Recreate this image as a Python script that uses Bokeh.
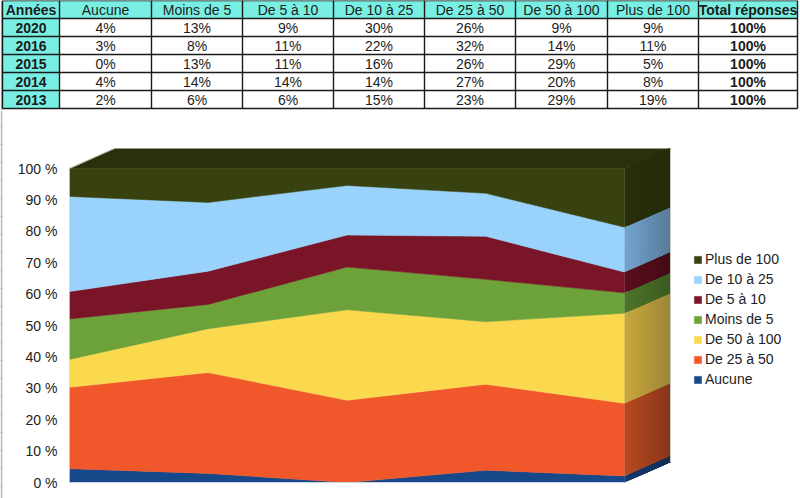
from bokeh.embed import file_html
from bokeh.resources import INLINE
from bokeh.plotting import figure
from bokeh.layouts import column, row
from bokeh.models import (Range1d, LinearAxis, FixedTicker, Legend, LegendItem)
from bokeh.core.properties import value

years = ["2020", "2016", "2015", "2014", "2013"]
# rounded percentages printed in the table
aucune = [4, 3, 0, 4, 2]
moins_de_5 = [13, 8, 13, 14, 6]
de_5_a_10 = [9, 11, 11, 14, 6]
de_10_a_25 = [30, 22, 16, 14, 15]
de_25_a_50 = [26, 32, 26, 27, 23]
de_50_a_100 = [9, 14, 29, 20, 29]
plus_de_100 = [9, 11, 5, 8, 19]
totals = [100, 100, 100, 100, 100]

# band heights (the unrounded shares)
band_aucune = [4.4, 2.9, 0.0, 3.9, 2.1]
band_25_50 = [25.9, 32.1, 26.2, 27.4, 23.1]
band_50_100 = [8.9, 14.0, 28.8, 19.9, 28.7]
band_moins_5 = [12.9, 7.7, 13.6, 13.5, 6.5]
band_5_10 = [8.7, 10.6, 10.2, 13.7, 6.6]
band_10_25 = [30.3, 21.9, 15.8, 13.7, 14.3]
band_plus_100 = [8.9, 10.8, 5.4, 7.9, 18.7]

headers = ["Années", "Aucune", "Moins de 5", "De 5 à 10", "De 10 à 25", "De 25 à 50",
           "De 50 à 100", "Plus de 100", "Total réponses"]
table_cols = [aucune, moins_de_5, de_5_a_10, de_10_a_25, de_25_a_50, de_50_a_100, plus_de_100]
y_ticks = [0, 10, 20, 30, 40, 50, 60, 70, 80, 90, 100]

# stacking order bottom to top, with front colour and side-wall gradient
stack = [
    ("Aucune", band_aucune, "#17488a", "#123a70", "#0e2c55"),
    ("De 25 à 50", band_25_50, "#f0582c", "#b84a22", "#87351a"),
    ("De 50 à 100", band_50_100, "#fbd94f", "#c9a83f", "#9c8636"),
    ("Moins de 5", band_moins_5, "#6da13a", "#4e752a", "#3a5a20"),
    ("De 5 à 10", band_5_10, "#7a1427", "#5a0f1e", "#450a16"),
    ("De 10 à 25", band_10_25, "#99d3fb", "#74a5cf", "#57799a"),
    ("Plus de 100", band_plus_100, "#374210", "#2a300c", "#232a07"),
]
FONT = value("Liberation Sans")

# ---- table
col_edges = [2, 59, 151, 242, 333, 424, 515, 607, 698, 797]
row_edges = [0, 18, 36, 54, 72, 90, 108]
TABLE_H = 110
t = figure(width=800, height=TABLE_H, x_range=Range1d(0, 800), y_range=Range1d(TABLE_H, 0),
           toolbar_location=None, output_backend="svg", min_border=0, outline_line_color=None,
           x_axis_location=None, y_axis_location=None, frame_align=False)
t.grid.visible = False

CYAN = "#78efe2"
t.quad(left=col_edges[:-1], right=col_edges[1:], top=[row_edges[0]] * 9, bottom=[row_edges[1]] * 9,
       fill_color=CYAN, line_color=None)
t.quad(left=[col_edges[0]] * 5, right=[col_edges[1]] * 5, top=row_edges[1:-1], bottom=row_edges[2:],
       fill_color=CYAN, line_color=None)
t.line([1, 1], [0, TABLE_H], line_color="#b5b5b5", line_width=1.5)
for xe in col_edges:
    t.line([xe, xe], [row_edges[0], row_edges[-1]], line_color="#1a1a1a", line_width=1.4)
for ye in row_edges:
    t.line([col_edges[0], col_edges[-1]], [ye, ye], line_color="#1a1a1a", line_width=1.4)


def cell(text, c, r, bold=False):
    t.text([(col_edges[c] + col_edges[c + 1]) / 2], [(row_edges[r] + row_edges[r + 1]) / 2 + 0.5], text=[text],
           text_font=FONT, text_font_size="14px", text_color="#1c1c1c",
           text_font_style="bold" if bold else "normal", text_align="center", text_baseline="middle")


for c, h in enumerate(headers):
    cell(h, c, 0, bold=c in (0, 8))
for r, y in enumerate(years):
    cell(y, 0, r + 1, bold=True)
    for c, col in enumerate(table_cols):
        cell(f"{col[r]}%", c + 1, r + 1)
    cell(f"{totals[r]}%", 8, r + 1, bold=True)

# ---- faint spreadsheet grid at the page's left edge
STRIP_W = 3
g = figure(width=STRIP_W, height=498 - TABLE_H, x_range=Range1d(0, STRIP_W), y_range=Range1d(498, TABLE_H),
           toolbar_location=None, output_backend="svg", min_border=0, outline_line_color=None,
           x_axis_location=None, y_axis_location=None, frame_align=False)
g.grid.visible = False
g.line([1, 1], [TABLE_H, 498], line_color="#b5b5b5", line_width=1.5)
for k in range(1, 22):
    g.line([0, STRIP_W], [108 + 18 * k] * 2, line_color="#b5b5b5", line_width=1)

# ---- chart
LEFT, FRONT_RIGHT, TOP100, ZERO_Y, TOP_Y = 69, 624, 168, 482, 148
TOTAL_W, CHART_H = 800, 498 - TABLE_H
px_x = (FRONT_RIGHT - LEFT) / (len(years) - 1)
px_y = (ZERO_Y - TOP100) / 100
dx, dy = 46 / px_x, 20.5 / px_y
x_end = (TOTAL_W - LEFT) / px_x
y_end = (ZERO_Y - TOP_Y) / px_y
y_start = -(498 - ZERO_Y) / px_y

p = figure(width=TOTAL_W - STRIP_W, height=CHART_H, x_range=Range1d(0, x_end), y_range=Range1d(y_start, y_end),
           toolbar_location=None, output_backend="svg", x_axis_location=None, y_axis_location=None,
           outline_line_color=None, min_border_left=LEFT - STRIP_W, min_border_right=0,
           min_border_top=TOP_Y - TABLE_H, min_border_bottom=0, frame_align=False)
p.grid.visible = False

ax = LinearAxis(ticker=FixedTicker(ticks=y_ticks),
                major_label_overrides={v: f"{v} %" for v in y_ticks},
                axis_line_color=None, major_tick_line_color=None, minor_tick_line_color=None,
                major_tick_out=0, major_tick_in=0,
                major_label_text_font="Liberation Sans", major_label_text_font_size="14px",
                major_label_text_color="#222222", major_label_standoff=12)
p.add_layout(ax, "left")


def hex_mix(a, b, f):
    ca = [int(a[i:i + 2], 16) for i in (1, 3, 5)]
    cb = [int(b[i:i + 2], 16) for i in (1, 3, 5)]
    return "#%02x%02x%02x" % tuple(round(u + (v - u) * f) for u, v in zip(ca, cb))


xs = list(range(len(years)))
last = len(xs) - 1
base = [0.0] * len(xs)
items = []
STRIPS = 14

# top face
p.patch([0, dx, last + dx, last], [100, 100 + dy, 100 + dy, 100], fill_color="#2a300c", line_color="#2a300c", line_width=0.5)

for name, vals, front, s0, s1 in stack:
    top = [b + v for b, v in zip(base, vals)]
    r = p.patch(xs + xs[::-1], top + base[::-1], fill_color=front, line_color=front, line_width=0.5)
    items.append(LegendItem(label=name, renderers=[r]))
    for k in range(STRIPS):
        a0 = k / STRIPS
        col = hex_mix(s0, s1, (k + 0.5) / STRIPS)
        # each strip runs to the far edge, so the next one paints over it without seams
        p.patch([last + dx * a0, last + dx, last + dx, last + dx * a0],
                [base[-1] + dy * a0, base[-1] + dy, top[-1] + dy, top[-1] + dy * a0],
                fill_color=col, line_color=None)
    base = top

# pale edges of the box
edge = dict(line_color="#c9cdc4", line_width=1)
p.line([0, 0, dx, last + dx, last + dx], [0, 100, 100 + dy, 100 + dy, dy], **edge)
p.line([0, last], [0, 0], line_color="#c9d3e0", line_width=1)

legend = Legend(items=items[::-1], location=(693 - LEFT, ZERO_Y - 389 + (498 - ZERO_Y)), orientation="vertical",
                background_fill_alpha=0, border_line_color=None, padding=0, margin=0, spacing=0,
                glyph_width=9, glyph_height=9, label_height=20, label_standoff=3,
                label_text_font="Liberation Sans", label_text_font_size="14px", label_text_color="#222222")
p.add_layout(legend, "center")

page = column(t, row(g, p, spacing=0), spacing=0)
open("out.html", "w").write(file_html(page, INLINE))
